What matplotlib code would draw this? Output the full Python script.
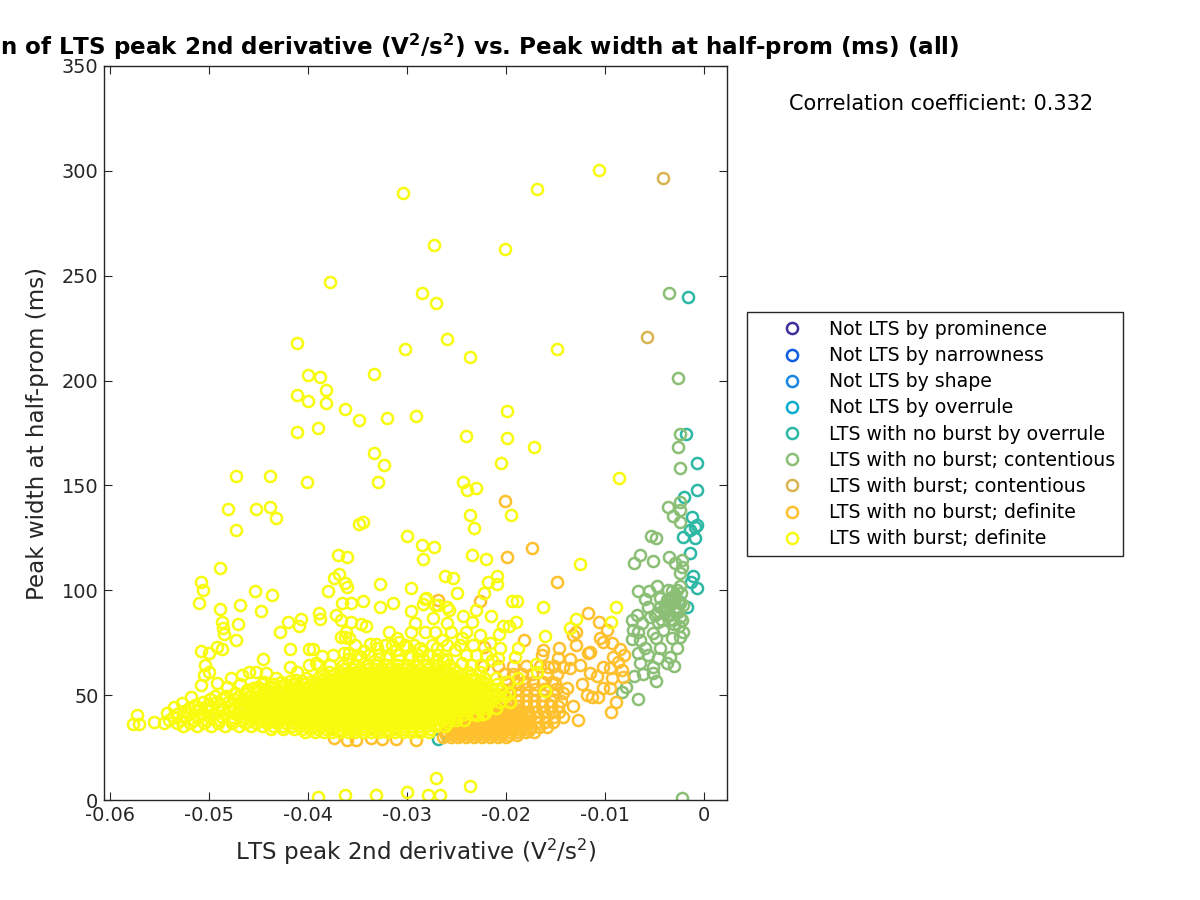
"""Scatter of LTS peak 2nd derivative against peak width, by LTS class."""

import matplotlib

matplotlib.use("Agg")
import matplotlib.pyplot as plt
import numpy as np

# x values are in units of 1e-3 V^2/s^2, y values in ms
empty_x = []
empty_y = []

overrule_x = [-1.8, -0.7, -0.7, -2.0, -1.2, -0.7, -0.9, -1.4, -2.1, -0.9, -1.4, -1.1, -1.3, -0.7, -2.4, -1.7, -1.6, -26.9]
overrule_y = [174.5, 160.7, 147.8, 144.5, 135.0, 131.1, 130.2, 128.8, 125.4, 124.9, 117.8, 106.8, 104.0, 101.1, 94.4, 92.0, 239.9, 29.1]

contentious_x = [
    -3.5, -2.6, -2.4, -2.6, -2.4, -2.4, -3.6, -3.1, -2.4, -2.4, -5.4, -4.9, -6.5, -7.1, -5.2, -3.5, -2.9, -2.2, -2.2,
    -2.4, -6.7, -5.6, -4.7, -3.6, -2.4, -2.7, -6.0, -3.7, -4.4, -3.2, -2.6, -5.7, -4.4, -3.1, -2.4, -4.7, -3.7, -2.7,
    -6.8, -7.3, -6.3, -4.6, -3.1, -2.2, -5.5, -3.7, -2.4, -7.2, -6.7, -5.2, -4.1, -2.1, -7.3, -6.5, -4.9, -3.2, -2.4,
    -2.7, -6.0, -6.7, -4.4, -5.7, -3.4, -4.6, -6.5, -5.2, -3.7, -3.0, -7.1, -6.2, -5.2, -4.9, -7.9, -8.3, -6.7, -2.2,
    -3.4, -2.9, -3.9, -3.4, -2.1, -2.6, -2.8, -3.3, -3.0, -2.5, -4.0, -3.5, -2.9, -2.3, -3.2, -4.2, -3.8, -5.0,
]
contentious_y = [
    241.8, 201.2, 174.5, 168.3, 158.3, 142.1, 139.7, 135.4, 138.3, 132.6, 125.9, 124.9, 116.8, 113.0, 114.0, 115.9, 113.0, 114.5, 111.1,
    108.3, 99.7, 99.7, 102.0, 100.1, 102.0, 100.1, 95.9, 95.4, 96.3, 96.8, 94.4, 92.0, 92.0, 94.4, 93.9, 89.2, 90.6, 90.6,
    88.2, 85.8, 84.4, 84.9, 85.8, 85.8, 87.3, 88.2, 87.3, 81.1, 80.1, 79.6, 81.1, 80.1, 76.8, 76.3, 77.3, 77.3, 77.7,
    72.5, 72.5, 70.1, 72.5, 69.1, 68.2, 67.7, 65.3, 63.4, 65.3, 63.9, 59.1, 60.1, 60.6, 56.7, 53.9, 51.5, 48.2, 1.0,
    93.0, 97.8, 89.7, 88.2, 93.0, 89.7, 91.5, 86.5, 84.0, 83.0, 91.0, 94.8, 96.0, 98.5, 99.5, 86.0, 92.6, 88.4,
]

burst_contentious_x = [-4.1, -5.8]
burst_contentious_y = [296.6, 220.8]

no_burst_x = [
    -20.1, -19.9, -17.4, -14.8, -22.6, -26.9, -11.7, -10.6, -9.8, -12.9, -13.2, -12.9, -10.5, -10.2, -9.3, -8.5, -8.1,
    -9.2, -8.7, -8.3, -8.2, -9.3, -9.5, -10.2, -10.8, -11.5, -12.5, -11.7, -11.5, -12.3, -11.8, -11.3, -10.7, -10.2,
    -9.5, -8.9, -9.4, -13.2, -12.7, -13.8, -14.2, -15.1, -13.5, -13.5, -14.2, -14.6, -14.7, -16.3, -16.4, -15.8, -18.2,
    -22.2, -37.4, -36.1, -35.1, -33.6, -32.5, -31.1, -29.1,
]
no_burst_y = [
    142.6, 115.9, 120.2, 104.0, 94.9, 95.4, 89.2, 84.9, 81.1, 80.1, 78.7, 73.9, 77.3, 75.3, 74.9, 72.0, 69.1,
    68.2, 65.8, 62.0, 58.7, 58.2, 62.9, 63.4, 59.1, 60.6, 64.4, 70.1, 70.6, 55.3, 50.1, 49.1, 49.1, 53.4,
    53.4, 46.7, 42.0, 44.8, 38.1, 53.4, 51.0, 55.8, 67.2, 62.9, 63.4, 72.5, 67.7, 71.5, 69.1, 63.4, 76.3,
    73.0, 29.6, 28.6, 28.6, 29.6, 29.1, 29.1, 28.6,
]

# dense part of the orange cloud, read as bands of constant width
no_burst_band_y = [30.0, 31.1, 32.2, 33.4, 34.6, 35.8, 37.0, 38.2, 39.5, 40.8, 42.0, 43.3, 44.6, 47.2, 50.0, 53.0, 56.5, 60.0, 64.0]
no_burst_band_x = [
    [-26.4, -25.6, -24.8, -24.0, -23.2, -22.4, -21.6, -20.8, -20.0],
    [-26.1, -25.3, -24.5, -23.7, -22.9, -22.1, -21.3, -20.5, -19.7, -18.9],
    [-26.0, -25.2, -24.4, -23.6, -22.8, -22.0, -21.2, -20.4, -19.6, -18.8, -18.0, -17.2],
    [-25.7, -24.9, -24.1, -23.3, -22.5, -21.7, -20.9, -20.1, -19.3, -18.5, -17.7],
    [-25.5, -24.7, -23.9, -23.1, -22.3, -21.5, -20.7, -19.9, -19.1, -18.3, -17.5, -16.7, -15.9],
    [-25.2, -24.4, -23.6, -22.8, -22.0, -21.2, -20.4, -19.6, -18.8, -18.0],
    [-24.9, -24.1, -23.3, -22.5, -21.7, -20.9, -20.1, -19.3, -18.5, -17.7, -16.9, -16.1, -15.3],
    [-24.5, -23.7, -22.9, -22.1, -21.3, -20.5, -19.7, -18.9, -18.1],
    [-24.0, -23.2, -22.4, -21.6, -20.8, -20.0, -19.2, -18.4, -17.6, -16.8, -16.0, -15.2, -14.2],
    [-23.7, -22.9, -22.1, -21.3, -20.5, -19.7, -18.9, -18.1],
    [-23.4, -22.6, -21.8, -21.0, -20.2, -19.4, -18.6, -17.8, -17.0, -16.2, -15.4, -14.6],
    [-23.0, -22.2, -21.4, -20.6, -19.8, -19.0],
    [-22.8, -22.0, -21.2, -20.4, -19.6, -18.8, -18.0, -17.2, -16.4, -15.6, -14.7],
    [-22.0, -21.2, -20.4, -19.6, -18.8, -18.0, -17.2, -16.4, -15.5, -14.4],
    [-21.2, -20.4, -19.6, -18.8, -18.0, -17.2, -16.3, -15.2],
    [-20.4, -19.6, -18.8, -18.0, -17.1, -16.2, -14.9],
    [-20.0, -19.0, -18.2, -17.3, -16.3, -15.4],
    [-20.2, -19.3, -18.4, -17.4, -15.9, -14.8],
    [-22.3, -20.8, -19.3, -18.0, -16.6, -15.2],
]

burst_x = [
    -30.4, -16.9, -10.6, -27.3, -20.1, -37.8, -28.5, -27.1, -26.0, -41.1, -30.2, -23.6, -14.8, -40.0, -38.8, -33.3, -38.2, -41.1, -40.0,
    -38.2, -19.9, -36.3, -32.0, -29.1, -34.8, -39.0, -41.1, -24.0, -19.9, -17.2, -33.3, -32.3, -20.5, -32.9, -47.3, -43.8, -40.1, -24.3,
    -23.9, -23.0, -8.6, -48.1, -45.2, -43.8, -43.2, -47.3, -34.8, -34.4, -23.6, -19.5, -23.2, -30.0, -28.5, -27.3, -28.4, -23.4, -22.0,
    -37.0, -36.1, -12.5, -48.9, -50.8, -50.6, -51.0, -48.9, -46.9, -45.4, -43.6, -44.7, -36.9, -37.4, -36.3, -36.1, -38.0, -32.7, -29.6,
    -26.2, -25.4, -20.9, -21.8, -20.9, -24.9, -22.2, -36.6, -35.7, -34.4, -32.7, -31.4, -29.6, -28.1, -28.4, -27.2, -26.0, -19.4, -18.9,
    -16.3, -8.9, -9.4, -12.9, -13.5, -16.1, -38.9, -38.8, -37.2, -36.7, -35.7, -34.6, -34.1, -42.0, -40.7, -40.9, -42.8, -48.7, -47.1,
    -48.6, -48.5, -47.3, -50.8, -50.0, -49.2, -48.7, -41.8, -39.9, -39.5, -38.6, -44.5, -50.4, -50.0, -41.8, -41.1, -39.9, -39.2, -36.7,
    -36.3, -35.9, -33.7, -33.1, -31.0, -30.8, -35.9, -36.4, -57.3, -57.7, -57.1, -55.6, -54.5, -54.2, -53.5, -52.7, -51.8, -50.8, -50.5,
    -49.2, -47.8, -46.7, -46.0, -45.2, -44.2, -42.7, -41.2, -39.0, -36.3, -33.1, -30.0, -27.9, -26.7, -27.1, -23.6,
    -21.5, -23.0, -23.4, -24.3, -25.8, -26.9, -28.2, -27.4, -26.0, -29.2, -28.2, -26.5, -24.4, -22.6, -19.0, -19.7, -20.3, -20.7, -20.6,
    -21.6, -18.8, -19.1, -20.8, -21.4, -18.8, -19.8, -19.7, -21.4, -22.1, -22.9, -17.0, -16.9, -16.1, -27.9, -25.2, -26.4, -28.7, -24.4,
    -36.0, -34.6, -33.3, -32.1, -30.8, -29.6, -28.4, -27.1, -26.1, -34.3, -33.0, -31.1, -30.0, -28.5, -27.0,
    -48.2, -46.9, -45.6, -44.4, -43.2, -47.5, -46.2, -45.0, -43.8, -42.6,
]
burst_y = [
    289.5, 291.4, 300.4, 264.7, 262.8, 247.0, 241.8, 237.0, 219.8, 217.9, 215.1, 211.3, 215.1, 202.7, 201.7, 203.1, 195.5, 193.1, 190.3,
    189.3, 185.5, 186.5, 182.2, 183.1, 181.2, 177.4, 175.5, 173.6, 172.6, 168.3, 165.5, 159.8, 160.7, 151.6, 154.5, 154.5, 151.6, 151.6,
    147.8, 148.8, 153.6, 138.8, 138.8, 139.7, 134.5, 128.8, 131.6, 132.6, 135.9, 135.9, 129.7, 125.9, 121.6, 120.6, 114.9, 116.8, 114.9,
    116.8, 115.9, 112.5, 110.6, 104.0, 100.1, 93.9, 91.1, 93.0, 99.7, 97.8, 90.1, 107.8, 105.9, 103.5, 101.6, 99.7, 103.0, 101.1,
    106.8, 105.9, 106.8, 104.0, 103.0, 98.7, 98.7, 93.9, 93.9, 94.9, 92.0, 93.9, 90.1, 96.3, 93.5, 93.0, 92.0, 94.9, 94.9,
    92.0, 92.0, 84.9, 86.3, 82.0, 78.2, 89.2, 86.3, 88.2, 85.8, 84.9, 83.9, 83.0, 84.9, 86.3, 83.0, 80.1, 84.9, 83.9,
    82.0, 79.2, 76.3, 71.1, 70.1, 73.0, 72.0, 72.0, 72.0, 72.0, 68.7, 67.2, 64.4, 61.0, 63.4, 61.0, 64.4, 65.3, 77.7,
    77.7, 77.3, 74.4, 74.4, 77.3, 75.3, 70.1, 70.1, 40.5, 36.2, 36.2, 37.2, 36.7, 41.5, 44.3, 46.3, 49.1, 54.8, 59.6,
    55.8, 58.2, 59.6, 61.0, 61.0, 60.6, 56.3, 57.2, 1.4, 2.4, 2.4, 3.8, 2.4, 2.4, 10.5, 6.7,
    87.7, 90.6, 84.9, 87.7, 90.6, 93.0, 95.9, 86.8, 84.4, 84.4, 80.1, 76.3, 77.3, 78.7, 84.9, 83.0, 83.0, 79.2, 72.5,
    74.9, 72.5, 68.2, 67.7, 66.8, 58.2, 56.3, 51.0, 49.1, 41.5, 40.5, 64.9, 61.0, 52.0, 69.1, 71.5, 66.8, 72.5, 65.3,
    67.0, 68.0, 66.5, 67.5, 66.8, 68.2, 67.0, 66.2, 67.4, 71.0, 72.5, 71.5, 73.0, 71.2, 72.4,
    54.0, 55.5, 53.5, 56.5, 58.0, 50.5, 52.5, 51.5, 54.5, 52.0,
]

# dense part of the yellow cloud, read as bands of constant width
burst_band_y = [
    80.0, 74.0, 69.0, 64.4, 62.6, 61.0, 59.6, 58.2, 56.8, 55.4, 54.0, 52.5, 51.1, 49.7, 48.2, 46.8, 45.3, 43.9, 42.4, 41.0,
    39.5, 38.1, 36.7, 35.3, 33.9, 32.6,
]
burst_band_x = [
    [-36.2, -31.8, -29.6, -27.2, -25.6, -24.0],
    [-35.3, -32.2, -31.5, -30.2, -29.3, -27.5, -26.0, -24.6, -23.3],
    [-37.5, -35.0, -33.8, -32.8, -31.8, -30.8, -29.8, -28.9, -26.9, -24.0, -23.0, -22.0],
    [-39.0, -37.8, -36.5, -35.2, -34.0, -33.0, -32.0, -31.0, -30.0, -29.0, -28.0, -26.9, -25.8, -23.5, -22.5],
    [-36.4, -35.5, -34.7, -33.9, -33.2, -32.5, -31.7, -31.0, -30.2, -29.5, -28.7, -28.0, -27.2, -26.3, -25.3],
    [-37.9, -36.8, -35.9, -35.1, -34.4, -33.6, -32.9, -32.1, -31.4, -30.6, -29.9, -29.1, -28.4, -27.6, -26.8, -25.9, -24.9, -23.8, -22.6],
    [-38.5, -37.5, -36.6, -35.9, -35.2, -34.5, -33.8, -33.0, -32.3, -31.5, -30.8, -30.0, -29.3, -28.5, -27.8, -27.0, -26.2, -25.4, -24.5, -23.5],
    [-40.2, -39.0, -38.0, -37.1, -36.3, -35.6, -34.9, -34.1, -33.4, -32.6, -31.9, -31.1, -30.4, -29.6, -28.9, -28.1, -27.4, -26.6, -25.8, -25.0, -24.1, -23.2, -22.2, -21.0],
    [-41.8, -40.6, -39.6, -38.6, -37.7, -36.9, -36.1, -35.4, -34.7, -34.0, -33.3, -32.6, -31.9, -31.2, -30.5, -29.8, -29.1, -28.4, -27.7, -27.0, -26.3, -25.6, -24.8, -24.0, -23.2, -22.4],
    [-44.6, -43.4, -42.3, -41.3, -40.4, -39.5, -38.7, -37.9, -37.2, -36.5, -35.8, -35.1, -34.4, -33.7, -33.0, -32.3, -31.6, -30.9, -30.2, -29.5, -28.8, -28.1, -27.4, -26.7, -26.0, -25.3, -24.5, -23.7, -22.9, -22.0, -20.9],
    [-45.0, -43.9, -42.8, -41.8, -40.9, -40.1, -39.3, -38.6, -37.9, -37.2, -36.5, -35.8, -35.1, -34.4, -33.7, -33.0, -32.3, -31.6, -30.9, -30.2, -29.5, -28.8, -28.1, -27.4, -26.7, -26.0, -25.3, -24.6, -23.8, -23.0, -22.1],
    [-46.2, -45.0, -44.0, -43.0, -42.1, -41.3, -40.6, -39.9, -39.2, -38.5, -37.8, -37.1, -36.4, -35.7, -35.0, -34.3, -33.6, -32.9, -32.2, -31.5, -30.8, -30.1, -29.4, -28.7, -28.0, -27.3, -26.6, -25.9, -25.2, -24.5, -23.8, -23.0, -22.2, -21.4, -20.5],
    [-47.4, -46.1, -45.1, -44.2, -43.4, -42.7, -42.0, -41.3, -40.6, -39.9, -39.2, -38.5, -37.8, -37.1, -36.4, -35.7, -35.0, -34.3, -33.6, -32.9, -32.2, -31.5, -30.8, -30.1, -29.4, -28.7, -28.0, -27.3, -26.6, -25.9, -25.2, -24.5, -23.7, -22.9, -22.0],
    [-49.4, -48.3, -47.0, -45.9, -44.9, -44.0, -43.2, -42.5, -41.8, -41.1, -40.4, -39.7, -39.0, -38.3, -37.6, -36.9, -36.2, -35.5, -34.8, -34.1, -33.4, -32.7, -32.0, -31.3, -30.6, -29.9, -29.2, -28.5, -27.8, -27.1, -26.4, -25.7, -25.0, -24.3, -23.6, -22.8, -21.9, -21.0, -20.1],
    [-49.9, -48.7, -47.5, -46.5, -45.5, -44.6, -43.9, -43.2, -42.5, -41.8, -41.1, -40.4, -39.7, -39.0, -38.3, -37.6, -36.9, -36.2, -35.5, -34.8, -34.1, -33.4, -32.7, -32.0, -31.3, -30.6, -29.9, -29.2, -28.5, -27.8, -27.1, -26.4, -25.7, -25.0, -24.3, -23.5, -22.6, -21.7],
    [-50.6, -49.3, -48.1, -47.0, -46.0, -45.1, -44.3, -43.6, -42.9, -42.2, -41.5, -40.8, -40.1, -39.4, -38.7, -38.0, -37.3, -36.6, -35.9, -35.2, -34.5, -33.8, -33.1, -32.4, -31.7, -31.0, -30.3, -29.6, -28.9, -28.2, -27.5, -26.8, -26.1, -25.4, -24.7, -24.0, -23.3, -22.5, -21.6, -20.6, -19.6],
    [-51.4, -50.1, -48.9, -47.8, -46.8, -45.8, -44.9, -44.1, -43.4, -42.7, -42.0, -41.3, -40.6, -39.9, -39.2, -38.5, -37.8, -37.1, -36.4, -35.7, -35.0, -34.3, -33.6, -32.9, -32.2, -31.5, -30.8, -30.1, -29.4, -28.7, -28.0, -27.3, -26.6, -25.9, -25.2, -24.5, -23.8, -23.0, -22.2],
    [-52.0, -50.9, -49.7, -48.6, -47.5, -46.5, -45.6, -44.8, -44.0, -43.3, -42.6, -41.9, -41.2, -40.5, -39.8, -39.1, -38.4, -37.7, -37.0, -36.3, -35.6, -34.9, -34.2, -33.5, -32.8, -32.1, -31.4, -30.7, -30.0, -29.3, -28.6, -27.9, -27.2, -26.5, -25.8, -25.1, -24.4, -23.7, -22.9, -22.0, -21.0],
    [-52.5, -51.3, -50.1, -49.0, -47.9, -46.9, -46.0, -45.2, -44.4, -43.7, -43.0, -42.3, -41.6, -40.9, -40.2, -39.5, -38.8, -38.1, -37.4, -36.7, -36.0, -35.3, -34.6, -33.9, -33.2, -32.5, -31.8, -31.1, -30.4, -29.7, -29.0, -28.3, -27.6, -26.9, -26.2, -25.5, -24.8, -24.0],
    [-53.2, -52.0, -50.8, -49.6, -48.4, -47.3, -46.3, -45.4, -44.6, -43.9, -43.2, -42.5, -41.8, -41.1, -40.4, -39.7, -39.0, -38.3, -37.6, -36.9, -36.2, -35.5, -34.8, -34.1, -33.4, -32.7, -32.0, -31.3, -30.6, -29.9, -29.2, -28.5, -27.8, -27.1, -26.4, -25.7, -25.0, -24.2, -23.3, -22.3],
    [-53.6, -52.4, -51.1, -49.9, -48.7, -47.6, -46.6, -45.7, -44.9, -44.2, -43.5, -42.8, -42.1, -41.4, -40.7, -40.0, -39.3, -38.6, -37.9, -37.2, -36.5, -35.8, -35.1, -34.4, -33.7, -33.0, -32.3, -31.6, -30.9, -30.2, -29.5, -28.8, -28.1, -27.4, -26.7, -26.0, -25.2],
    [-54.0, -52.8, -51.5, -50.2, -49.0, -47.8, -46.8, -45.8, -44.9, -44.1, -43.4, -42.7, -42.0, -41.3, -40.6, -39.9, -39.2, -38.5, -37.8, -37.1, -36.4, -35.7, -35.0, -34.3, -33.6, -32.9, -32.2, -31.5, -30.8, -30.1, -29.4, -28.7, -28.0, -27.3, -26.6, -25.9, -25.1, -24.2],
    [-53.2, -51.9, -50.5, -49.1, -47.7, -46.4, -45.2, -44.1, -43.1, -42.2, -41.4, -40.6, -39.9, -39.2, -38.5, -37.8, -37.1, -36.4, -35.7, -35.0, -34.3, -33.6, -32.9, -32.2, -31.5, -30.8, -30.1, -29.4, -28.6, -27.8, -27.0, -26.0],
    [-52.6, -51.2, -49.8, -48.4, -47.0, -45.8, -44.6, -43.5, -42.5, -41.6, -40.8, -40.0, -39.3, -38.6, -37.9, -37.2, -36.5, -35.8, -35.1, -34.4, -33.7, -33.0, -32.3, -31.6, -30.9, -30.2, -29.5, -28.8, -28.0, -27.2, -26.2],
    [-43.7, -42.5, -41.4, -40.6, -39.8, -39.0, -38.2, -37.5, -36.7, -35.9, -35.1, -34.3, -33.5, -32.7, -31.9, -31.1, -30.3, -29.5, -28.7, -27.7],
    [-40.3, -39.3, -38.4, -37.6, -36.8, -36.0, -35.2, -34.4, -33.6, -32.8, -32.0, -31.2, -30.4, -29.6, -28.7, -27.8],
]

legend_labels = [
    "Not LTS by prominence",
    "Not LTS by narrowness",
    "Not LTS by shape",
    "Not LTS by overrule",
    "LTS with no burst by overrule",
    "LTS with no burst; contentious",
    "LTS with burst; contentious",
    "LTS with no burst; definite",
    "LTS with burst; definite",
]
class_colors = ["#3d2f9c", "#0f5ce0", "#1a86e0", "#0cabd0", "#2db8a5", "#8abf75", "#d9b552", "#ffc02e", "#f9fb0e"]

x_ticks = [-0.06, -0.05, -0.04, -0.03, -0.02, -0.01, 0]
x_tick_labels = ["-0.06", "-0.05", "-0.04", "-0.03", "-0.02", "-0.01", "0"]
y_ticks = [0, 50, 100, 150, 200, 250, 300, 350]


def flatten_bands(band_y, band_x):
    """Turn bands of x values into flat x and y lists."""
    xs, ys = [], []
    for y, row in zip(band_y, band_x):
        xs.extend(row)
        ys.extend([y] * len(row))
    return xs, ys


band_xs, band_ys = flatten_bands(no_burst_band_y, no_burst_band_x)
no_burst_all_x = no_burst_x + band_xs
no_burst_all_y = no_burst_y + band_ys
band_xs, band_ys = flatten_bands(burst_band_y, burst_band_x)
burst_all_x = burst_x + band_xs
burst_all_y = burst_y + band_ys

series = [
    (empty_x, empty_y),
    (empty_x, empty_y),
    (empty_x, empty_y),
    (empty_x, empty_y),
    (overrule_x, overrule_y),
    (contentious_x, contentious_y),
    (burst_contentious_x, burst_contentious_y),
    (no_burst_all_x, no_burst_all_y),
    (burst_all_x, burst_all_y),
]

plt.rcParams["font.family"] = "DejaVu Sans"
plt.rcParams["mathtext.default"] = "regular"
plt.rcParams["axes.unicode_minus"] = False

dark = "#262626"
fig = plt.figure(figsize=(12, 9), dpi=100)
ax = fig.add_axes([104 / 1200, 100 / 900, 623 / 1200, 734 / 900])

for (xs, ys), color, label in zip(series, class_colors, legend_labels):
    ax.plot(
        np.array(xs) * 1e-3,
        ys,
        "o",
        mfc="none",
        mec=color,
        mew=1.8,
        ms=8.0,
        label=label,
    )

ax.set_xlim(-0.0606, 0.00232)
ax.set_ylim(0, 350)
ax.set_xticks(x_ticks)
ax.set_xticklabels(x_tick_labels)
ax.set_yticks(y_ticks)
ax.tick_params(
    direction="in", top=True, right=True, length=6, width=0.8,
    color=dark, labelcolor=dark, labelsize=13.9, pad=4,
)
for spine in ax.spines.values():
    spine.set_color(dark)
    spine.set_linewidth(1.0)

ax.set_xlabel("LTS peak 2nd derivative ($V^2/s^2$)", fontsize=16.6, color=dark, labelpad=9)
ax.set_ylabel("Peak width at half-prom (ms)", fontsize=16.6, color=dark, labelpad=9)
ax.set_title(
    r"Correlation of LTS peak 2nd derivative ($\mathbf{V^2/s^2}$) vs. Peak width at half-prom (ms) (all)",
    fontsize=16.6,
    fontweight="bold",
    color="black",
    pad=8,
)

fig.text(789 / 1200, 1 - 104 / 900, "Correlation coefficient: 0.332", fontsize=15, va="center", color="black")

ax.legend(
    loc="upper left",
    bbox_to_anchor=(747 / 1200, 1 - 312 / 900),
    bbox_transform=fig.transFigure,
    borderaxespad=0,
    fontsize=13.6,
    frameon=True,
    fancybox=False,
    framealpha=1,
    edgecolor=dark,
    numpoints=1,
    borderpad=0.42,
    handlelength=3.92,
    handletextpad=0.0,
    labelspacing=0.38,
)

fig.savefig("out.png", dpi=100)
